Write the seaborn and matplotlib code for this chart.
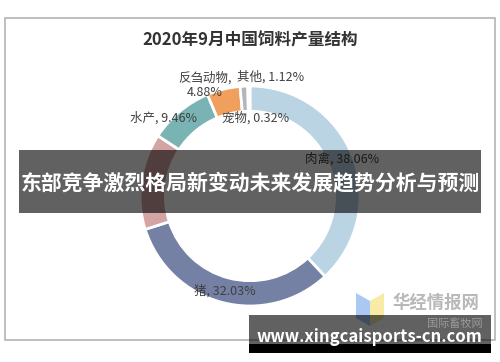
import matplotlib.pyplot as plt
import seaborn as sns
from matplotlib.patches import Rectangle, Polygon

# data
categories = ["肉禽", "猪", "蛋禽", "水产", "反刍动物", "其他", "宠物"]
shares = [38.06, 32.03, 14.13, 9.46, 4.88, 1.12, 0.32]
colors = ["#bad4e4", "#7480a4", "#d4a3a4", "#7ab3b3", "#f0a05c", "#b2b6b8", "#dfe3e6"]
title = "2020年9月中国饲料产量结构"
banner_text = "东部竞争激烈格局新变动未来发展趋势分析与预测"
site_text = "www.xingcaisports-cn.com"

# label layout (pixel centres); 蛋禽 has no visible label
label_pos = {
    "肉禽": (342, 159),
    "猪": (225, 291),
    "水产": (164, 118),
    "反刍动物": (205, 85),
    "其他": (271, 77),
    "宠物": (256, 118),
}

W, H = 500, 362
sns.set_theme(style="white")
plt.rcParams["font.family"] = ["Noto Sans CJK SC", "DejaVu Sans"]

fig = plt.figure(figsize=(W / 100, H / 100), dpi=100)
fig.patch.set_facecolor("white")

# donut: centre (250,196), radius 110 px
cx, cy, R = 250, 196, 110
ax = fig.add_axes([(cx - R) / W, 1 - (cy + R) / H, 2 * R / W, 2 * R / H])
ax.pie(shares, colors=colors, startangle=90, counterclock=False, radius=1,
       wedgeprops=dict(width=0.23, edgecolor="white", linewidth=2))
ax.set_xlim(-1, 1)
ax.set_ylim(-1, 1)
ax.axis("off")

for cat, val in zip(categories, shares):
    if cat not in label_pos:
        continue
    px, py = label_pos[cat]
    txt = f"{cat},\n{val:.2f}%" if cat == "反刍动物" else f"{cat}, {val:.2f}%"
    ax.text((px - cx) / R, (cy - py) / R, txt, ha="center", va="center",
            fontsize=9, color="#404040", linespacing=1.1)

# overlay in pixel coordinates
ov = fig.add_axes([0, 0, 1, 1])
ov.set_xlim(0, W)
ov.set_ylim(H, 0)
ov.axis("off")
ov.patch.set_alpha(0)

ov.add_patch(Rectangle((5, 18), 490, 322, fill=False, edgecolor="#b4b4b4", linewidth=1.2))
ov.text(250, 40, title, ha="center", va="center", fontsize=12, fontweight="bold", color="#333333")

# watermark
ov.add_patch(Polygon([(356, 293), (370, 301), (370, 326), (356, 318)], closed=True,
                     facecolor="#a9c9f2", edgecolor="none"))
ov.add_patch(Polygon([(370, 301), (384, 293), (384, 318), (370, 326)], closed=True,
                     facecolor="#f9eaa6", edgecolor="none"))
ov.text(436, 303, "华经情报网", ha="center", va="center", fontsize=12.5,
        fontweight="bold", color="#b8b8b8")
ov.text(455, 324, "国际畜牧网", ha="center", va="center", fontsize=8, color="#9a9a9a")

# banners
ov.add_patch(Rectangle((19, 150), 462, 63, facecolor="black", alpha=0.62, edgecolor="none"))
ov.text(250, 183, banner_text, ha="center", va="center", fontsize=15,
        fontweight="bold", color="white")
ov.add_patch(Rectangle((249, 315), 242, 29, facecolor="black", alpha=0.62, edgecolor="none"))
ov.add_patch(Rectangle((249, 344), 242, 9, facecolor="black", edgecolor="none"))
ov.text(369, 337, site_text, ha="center", va="center", fontsize=12,
        fontweight="bold", color="white")

fig.savefig("out.png", dpi=100)
